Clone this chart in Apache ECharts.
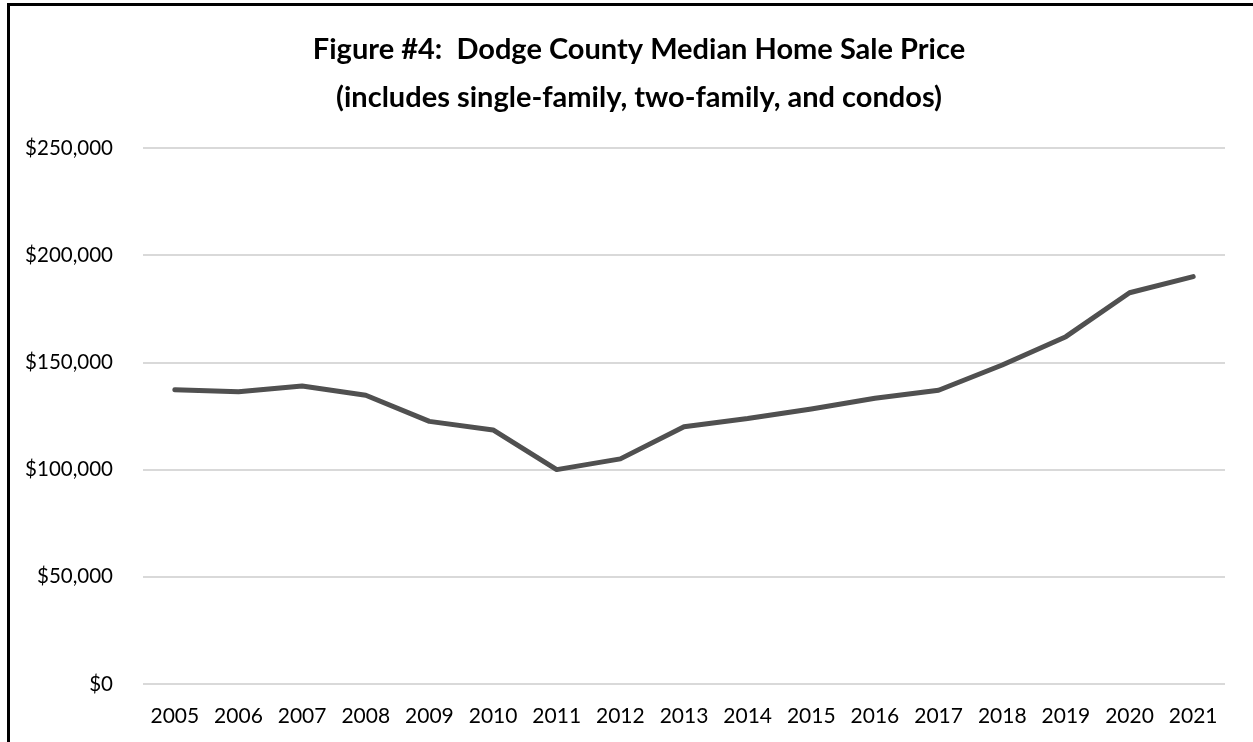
<!DOCTYPE html>
<html>
<head>
<meta charset="utf-8">
<script src="https://cdn.jsdelivr.net/npm/echarts@6/dist/echarts.min.js"></script>
<style>
  html, body { margin: 0; padding: 0; background: #fff; overflow: hidden; }
  #frame { position: absolute; left: 7px; top: 3px; width: 1300px; height: 800px;
    border-left: 3px solid #000; border-top: 3px solid #000; box-sizing: border-box; }
  #chart { position: absolute; left: 0; top: 0; width: 1253px; height: 742px; }
</style>
</head>
<body>
<div id="frame"></div>
<div id="chart"></div>
<script>
const years = ['2005', '2006', '2007', '2008', '2009', '2010', '2011', '2012', '2013',
  '2014', '2015', '2016', '2017', '2018', '2019', '2020', '2021'];
const medianPrice = [137300, 136300, 139000, 134700, 122500, 118500, 100000, 105000, 120000,
  123800, 128300, 133300, 137000, 148800, 162000, 182500, 190000];
const priceTicks = [0, 50000, 100000, 150000, 200000, 250000];

const fontFamily = 'Lato, "Open Sans", sans-serif';

const chart = echarts.init(document.getElementById('chart'), null, { renderer: 'canvas' });
chart.setOption({
  animation: false,
  title: {
    text: 'Figure #4:  Dodge County Median Home Sale Price\n(includes single-family, two-family, and condos)',
    left: 634,
    top: 21,
    textAlign: 'center',
    textStyle: { fontFamily, fontSize: 29, fontWeight: 'bold', color: '#000', lineHeight: 48 }
  },
  grid: { left: 143, right: 28, top: 148, bottom: 58, containLabel: false },
  xAxis: {
    type: 'category',
    data: years,
    boundaryGap: true,
    axisLine: { show: false },
    axisTick: { show: false },
    axisLabel: { fontFamily, fontSize: 21, color: '#000', margin: 22 }
  },
  yAxis: {
    type: 'value',
    min: priceTicks[0],
    max: priceTicks[priceTicks.length - 1],
    interval: 50000,
    axisLine: { show: false },
    axisTick: { show: false },
    splitLine: { lineStyle: { color: '#d9d9d9', width: 2 } },
    axisLabel: {
      fontFamily, fontSize: 20.5, color: '#000', margin: 30,
      formatter: v => '$' + v.toLocaleString('en-US')
    }
  },
  series: [{
    type: 'line',
    data: medianPrice,
    symbol: 'none',
    lineStyle: { color: '#505050', width: 5, cap: 'round', join: 'round' }
  }]
});
</script>
</body>
</html>
